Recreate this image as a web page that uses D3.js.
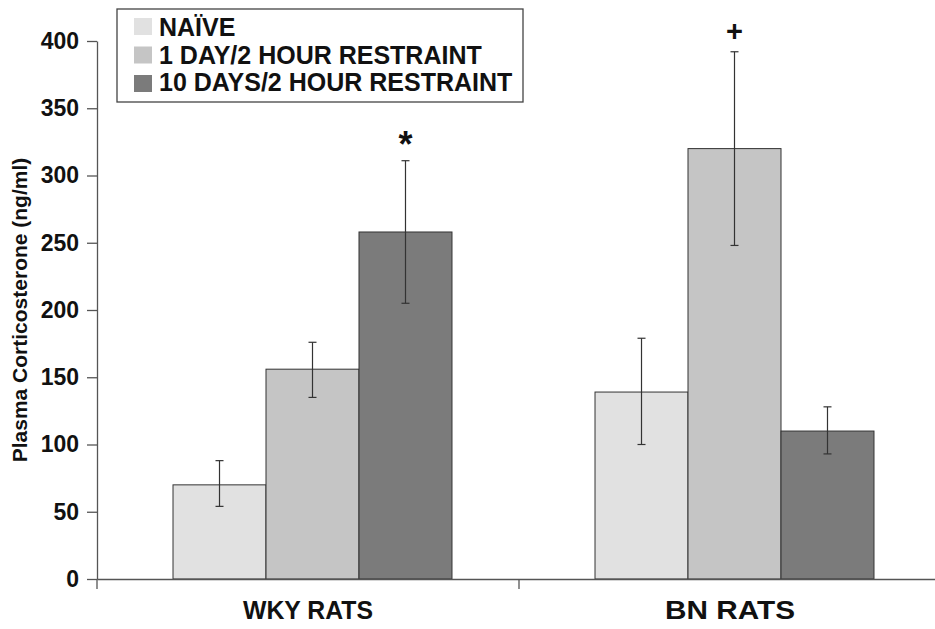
<!DOCTYPE html>
<html>
<head>
<meta charset="utf-8">
<script src="https://cdn.jsdelivr.net/npm/d3@7"></script>
<style>
	body { margin: 0; background: #fff; }
	text { font-family: "Liberation Sans", Arial, sans-serif; font-weight: bold; fill: #111; }
</style>
</head>
<body>
<div id="chart-area"></div>
<script>

const groups = ["WKY RATS", "BN RATS"];
const conditions = ["NAÏVE", "1 DAY/2 HOUR RESTRAINT", "10 DAYS/2 HOUR RESTRAINT"];
const colors = ["#e1e1e1", "#c5c5c5", "#7b7b7b"];
const means = [[70, 156, 258], [139, 320, 110]];
const errUp = [[88, 176, 311], [179, 392, 128]];
const errDown = [[54, 135, 205], [100, 248, 93]];
const marks = [["", "", "*"], ["", "+", ""]];
const yTicks = [0, 50, 100, 150, 200, 250, 300, 350, 400];

const width = 935, height = 629;
const margin = {top: 41, right: -6, bottom: 50, left: 97};

var svg = d3.select("#chart-area").append("svg")
	.attr("width", width)
	.attr("height", height);

var x = d3.scaleBand()
	.domain(groups)
	.range([margin.left, width - margin.right])
	.paddingInner(0)
	.paddingOuter(0);

var xSub = d3.scaleBand()
	.domain(conditions)
	.range([4.5, x.bandwidth() + 4.5])
	.paddingOuter(0.769)
	.paddingInner(0);

var y = d3.scaleLinear()
	.domain([0, 400])
	.range([height - margin.bottom, margin.top]);

// flatten data
var data = [];
groups.forEach((g, i) => {
	conditions.forEach((c, j) => {
		data.push({group: g, cond: c, k: j, v: means[i][j], hi: errUp[i][j], lo: errDown[i][j], mark: marks[i][j]});
	});
});

// bars
svg.selectAll(".bar")
	.data(data)
	.enter().append("rect")
	.attr("class", "bar")
	.attr("x", d => x(d.group) + xSub(d.cond))
	.attr("y", d => y(d.v))
	.attr("width", xSub.bandwidth())
	.attr("height", d => y(0) - y(d.v))
	.attr("fill", d => colors[d.k])
	.attr("stroke", "#333")
	.attr("stroke-width", 1);

// error bars
var cx = d => x(d.group) + xSub(d.cond) + xSub.bandwidth() / 2;
var eb = svg.selectAll(".err").data(data).enter().append("g").attr("class", "err")
	.attr("stroke", "#333").attr("stroke-width", 1.2);
eb.append("line")
	.attr("x1", cx).attr("x2", cx)
	.attr("y1", d => y(d.hi)).attr("y2", d => y(d.lo));
eb.append("line")
	.attr("x1", d => cx(d) - 4).attr("x2", d => cx(d) + 4)
	.attr("y1", d => y(d.hi)).attr("y2", d => y(d.hi));
eb.append("line")
	.attr("x1", d => cx(d) - 4).attr("x2", d => cx(d) + 4)
	.attr("y1", d => y(d.lo)).attr("y2", d => y(d.lo));

// significance marks
svg.selectAll(".mark")
	.data(data.filter(d => d.mark))
	.enter().append("text")
	.attr("class", "mark")
	.attr("x", cx)
	.attr("y", d => y(d.hi) - (d.mark == "*" ? 4 : 11))
	.attr("text-anchor", "middle")
	.style("font-size", d => d.mark == "*" ? "36px" : "29px")
	.text(d => d.mark);

// y轴
var yAxis = svg.append("g")
	.attr("transform", `translate(${margin.left},0)`)
	.call(d3.axisLeft(y).tickValues(yTicks).tickSize(10).tickSizeOuter(0).tickPadding(8));
yAxis.select(".domain").attr("stroke", "#555").attr("stroke-width", 1.3);
yAxis.selectAll(".tick line").attr("stroke", "#555").attr("stroke-width", 1.3);
yAxis.selectAll(".tick text").style("font-size", "23px").attr("fill", "#111");

// x轴
var xAxis = svg.append("g")
	.attr("transform", `translate(0,${y(0)})`)
	.call(d3.axisBottom(x).tickSize(0).tickPadding(19));
xAxis.select(".domain").attr("stroke", "#555").attr("stroke-width", 1.3);
xAxis.selectAll(".tick text")
	.attr("dy", "0.85em")
	.attr("textLength", 130)
	.attr("lengthAdjust", "spacingAndGlyphs")
	.style("font-size", "25px")
	.attr("fill", "#111");
// category separators
svg.selectAll(".sep")
	.data(groups)
	.enter().append("line")
	.attr("x1", d => x(d)).attr("x2", d => x(d))
	.attr("y1", y(0)).attr("y2", y(0) + 10)
	.attr("stroke", "#555").attr("stroke-width", 1.3);

svg.append("text")
	.attr("transform", `translate(27,${(y(0) + y(400)) / 2}) rotate(-90)`)
	.attr("text-anchor", "middle")
	.style("font-size", "21px")
	.text("Plasma Corticosterone (ng/ml)");

// 图例
var legend = svg.append("g").attr("transform", "translate(117,9)");
legend.append("rect")
	.attr("width", 406).attr("height", 93)
	.attr("fill", "#fff").attr("stroke", "#444").attr("stroke-width", 1.3);
conditions.forEach((c, j) => {
	legend.append("rect")
		.attr("x", 17).attr("y", 9 + j * 28.5)
		.attr("width", 18).attr("height", 17)
		.attr("fill", colors[j]);
	legend.append("text")
		.attr("x", 42).attr("y", 18 + j * 27.5)
		.attr("dy", ".36em")
		.style("font-size", "25px")
		.text(c);
});

</script>
</body>
</html>
